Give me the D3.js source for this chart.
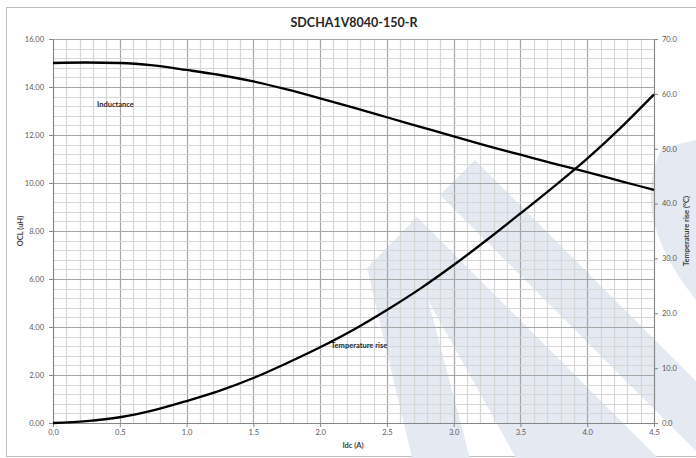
<!DOCTYPE html>
<html>
<head>
<meta charset="utf-8">
<script src="https://cdn.jsdelivr.net/npm/d3@7"></script>
<style>
	body { margin: 0; background: #fff; }
	svg { display: block; font-family: Lato, "Open Sans", sans-serif; }
</style>
</head>
<body>
<div id="chart"></div>
<script>
// Chart data
const chartTitle = "SDCHA1V8040-150-R";
const currentValues = [0, 0.25, 0.5, 0.75, 1.0, 1.25, 1.5, 1.75, 2.0, 2.25, 2.5, 2.75, 3.0, 3.25, 3.5, 3.75, 4.0, 4.25, 4.5];
const inductanceValues = [15.00, 15.02, 15.00, 14.90, 14.71, 14.50, 14.23, 13.90, 13.53, 13.14, 12.74, 12.34, 11.94, 11.55, 11.18, 10.81, 10.45, 10.08, 9.71];
const tempRiseValues = [0, 0.35, 1.05, 2.3, 4.0, 5.9, 8.2, 10.9, 13.8, 17.0, 20.6, 24.5, 28.8, 33.4, 38.2, 43.1, 48.2, 53.8, 59.9];
const xTicks = [0, 0.5, 1.0, 1.5, 2.0, 2.5, 3.0, 3.5, 4.0, 4.5];
const leftTicks = [0, 2, 4, 6, 8, 10, 12, 14, 16];
const rightTicks = [0, 10, 20, 30, 40, 50, 60, 70];

generateChart();

function generateChart() {
	const width = 696;
	const height = 458;
	const left = 53;
	const right = 654;
	const top = 39;
	const bottom = 423;

	const xScale = d3.scaleLinear().domain([0, 4.5]).range([left, right]);
	const yLeft = d3.scaleLinear().domain([0, 16]).range([bottom, top]);
	const yRight = d3.scaleLinear().domain([0, 70]).range([bottom, top]);

	const svg = d3.select('#chart')
					.append('svg')
					.attr('width', width)
					.attr('height', height);

	// Outer chart border
	svg.append('rect')
		.attr('x', 6.5).attr('y', 7.5)
		.attr('width', 720).attr('height', 449)
		.attr('fill', '#fff')
		.attr('stroke', '#bfbfbf');

	// Watermark logo behind the plot
	const mark = svg.append('g').attr('fill', '#e4e9f2');
	mark.append('path')
		.attr('d', 'M367,268 L417,217 L658,458 L516,458 L428,300 L470,458 L412,458 Z');
	mark.append('path')
		.attr('d', 'M440,195 L475,160 L696,381 L696,458 L703,458 Z');
	mark.append('path')
		.attr('d', 'M662,148 Q628,215 696,300 L696,140 Z');

	// Grid lines, minor and major
	const grid = svg.append('g');
	const vLines = d3.range(0, 46).map((i) => i / 10);
	grid.selectAll('.vgrid')
		.data(vLines)
		.enter()
			.append('line')
				.attr('x1', (d) => Math.round(xScale(d)) + 0.5)
				.attr('x2', (d) => Math.round(xScale(d)) + 0.5)
				.attr('y1', top).attr('y2', bottom)
				.attr('stroke', (d, i) => i % 5 === 0 ? '#a6a6a6' : '#d6d6d6')
				.attr('stroke-width', 1.2);

	const hLines = d3.range(0, 41).map((i) => i * 0.4);
	grid.selectAll('.hgrid')
		.data(hLines)
		.enter()
			.append('line')
				.attr('x1', left).attr('x2', right)
				.attr('y1', (d) => Math.round(yLeft(d)) + 0.5)
				.attr('y2', (d) => Math.round(yLeft(d)) + 0.5)
				.attr('stroke', (d, i) => i % 5 === 0 ? '#a6a6a6' : '#d6d6d6')
				.attr('stroke-width', 1.2);

	// Axes
	const axisColour = '#868686';
	const labelColour = '#595959';

	const xAxis = svg.append('g')
		.attr('transform', `translate(0, ${bottom})`)
		.call(d3.axisBottom(xScale).tickValues(xTicks).tickFormat(d3.format('.1f')).tickSize(4).tickPadding(3));

	const leftAxis = svg.append('g')
		.attr('transform', `translate(${left}, 0)`)
		.call(d3.axisLeft(yLeft).tickValues(leftTicks).tickFormat(d3.format('.2f')).tickSize(4).tickPadding(5));

	const rightAxis = svg.append('g')
		.attr('transform', `translate(${right}, 0)`)
		.call(d3.axisRight(yRight).tickValues(rightTicks).tickFormat(d3.format('.1f')).tickSize(4).tickPadding(4));

	[xAxis, leftAxis, rightAxis].forEach((a) => {
		a.select('.domain').attr('stroke', axisColour);
		a.selectAll('.tick line').attr('stroke', axisColour);
		a.selectAll('.tick text')
			.attr('fill', labelColour)
			.style('font-size', '7.5px')
			.style('font-family', 'Lato, sans-serif');
	});

	// Curves
	const inductanceLine = d3.line()
		.x((d, i) => xScale(currentValues[i]))
		.y((d) => yLeft(d))
		.curve(d3.curveMonotoneX);

	const tempLine = d3.line()
		.x((d, i) => xScale(currentValues[i]))
		.y((d) => yRight(d))
		.curve(d3.curveMonotoneX);

	svg.append('path')
		.datum(inductanceValues)
		.attr('d', inductanceLine)
		.attr('fill', 'none')
		.attr('stroke', '#000')
		.attr('stroke-width', 2.3);

	svg.append('path')
		.datum(tempRiseValues)
		.attr('d', tempLine)
		.attr('fill', 'none')
		.attr('stroke', '#000')
		.attr('stroke-width', 2.3);

	// Title
	svg.append('text')
		.attr('x', 354)
		.attr('y', 27)
		.attr('text-anchor', 'middle')
		.style('font-size', '12.5px')
		.style('font-weight', 'bold')
		.attr('fill', '#262626')
		.text(chartTitle);

	// Axis titles
	svg.append('text')
		.attr('x', 353)
		.attr('y', 448)
		.attr('text-anchor', 'middle')
		.style('font-size', '7.5px')
		.style('font-weight', 'bold')
		.attr('fill', '#404040')
		.text('Idc (A)');

	svg.append('text')
		.attr('transform', 'translate(23, 231) rotate(-90)')
		.attr('text-anchor', 'middle')
		.style('font-size', '7.5px')
		.style('font-weight', 'bold')
		.attr('fill', '#404040')
		.text('OCL (uH)');

	svg.append('text')
		.attr('transform', 'translate(689, 231) rotate(-90)')
		.attr('text-anchor', 'middle')
		.style('font-size', '7.5px')
		.style('font-weight', 'bold')
		.attr('fill', '#404040')
		.text('Temperature rise (°C)');

	// Series labels inside the plot
	svg.append('text')
		.attr('x', 97)
		.attr('y', 107)
		.style('font-size', '7.5px')
		.style('font-weight', 'bold')
		.attr('fill', '#262626')
		.text('Inductance');

	svg.append('text')
		.attr('x', 331)
		.attr('y', 348)
		.style('font-size', '7.5px')
		.style('font-weight', 'bold')
		.attr('fill', '#262626')
		.text('Temperature rise');
}
</script>
</body>
</html>
